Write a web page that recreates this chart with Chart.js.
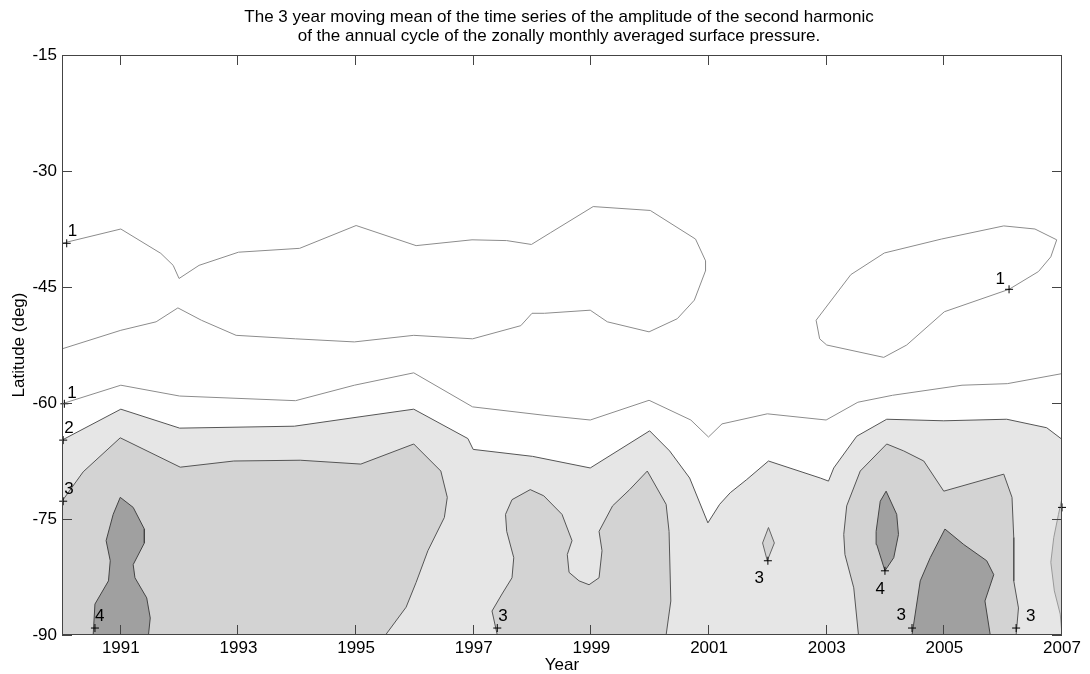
<!DOCTYPE html>
<html>
<head>
<meta charset="utf-8">
<script src="https://cdn.jsdelivr.net/npm/chart.js@4/dist/chart.umd.min.js"></script>
<style>
  html, body { margin: 0; padding: 0; background: #fff; }
</style>
</head>
<body>
<canvas id="contourChart" width="1090" height="674"></canvas>
<script>
// axis ticks
const xTickYears = [1991, 1993, 1995, 1997, 1999, 2001, 2003, 2005, 2007];
const yTickLats = [-90, -75, -60, -45, -30, -15];

const titleLines = [
    'The 3 year moving mean of the time series of the amplitude of the second harmonic',
    'of the annual cycle of the zonally monthly averaged surface pressure.'
];
const xTitle = 'Year';
const yTitle = 'Latitude (deg)';

// contour level 1 lines [year, latitude]
const level1Upper = [[1990,-39.35],[1991,-37.5],[1991.68,-40.65],[1991.89,-42.2],[1991.99,-43.9],[1992.33,-42.2],[1993,-40.5],[1994.04,-40.0],[1995,-37.05],[1996.02,-39.65],[1996.97,-38.9],[1997.56,-39.0],[1997.98,-39.5],[1998.3,-38.0],[1999.03,-34.6],[2000.0,-35.1],[2000.77,-38.8],[2000.94,-41.6],[2000.94,-42.9],[2000.75,-46.7],[2000.46,-49.1],[1999.98,-50.8],[1999.27,-49.5],[1998.98,-48.0],[1998.2,-48.4],[1997.99,-48.4],[1997.8,-50.0],[1996.98,-51.7],[1995.98,-51.25],[1994.97,-52.1],[1993.97,-51.7],[1992.96,-51.25],[1992.37,-49.3],[1991.97,-47.7],[1991.6,-49.5],[1991,-50.6],[1990,-53.0]];
const level1Blob = [[2003.12,-46.3],[2003.41,-43.4],[2003.98,-40.6],[2004.95,-38.8],[2006.01,-37.1],[2006.54,-37.5],[2006.91,-38.9],[2006.81,-41.1],[2006.6,-43.0],[2006.1,-45.3],[2005.0,-48.2],[2004.36,-52.5],[2003.97,-54.1],[2003.0,-52.5],[2002.88,-51.7],[2002.82,-49.3],[2003.12,-46.3]];
const level1Lower = [[1990,-60.1],[1991,-57.7],[1992,-59.1],[1993.97,-59.7],[1994.97,-57.7],[1995.98,-56.1],[1996.98,-60.5],[1998.21,-61.6],[1998.98,-62.2],[1999.98,-59.65],[2000.69,-62.2],[2000.99,-64.4],[2001.22,-62.7],[2001.99,-61.4],[2002.99,-62.2],[2003.53,-59.9],[2004.12,-59.0],[2005.3,-57.7],[2006.07,-57.5],[2007,-56.2]];

// level 2 region (filled down to -90)
const level2Region = [[1990,-64.8],[1991,-60.8],[1992,-63.25],[1993.95,-63.0],[1995.05,-61.8],[1995.98,-60.8],[1996.9,-64.6],[1996.99,-66.0],[1998.0,-66.9],[1998.98,-68.4],[1999.99,-63.6],[2000.33,-66.2],[2000.67,-69.7],[2000.98,-75.5],[2001.18,-73.1],[2001.36,-71.6],[2001.64,-69.9],[2002.01,-67.5],[2002.89,-69.7],[2003.03,-70.1],[2003.12,-68.4],[2003.51,-64.3],[2004.02,-62.1],[2004.99,-62.3],[2006.06,-62.1],[2006.74,-63.2],[2007,-64.7],[2007,-90],[1990,-90]];

// level 3 regions
const level3Left = [[1990,-72.7],[1990.36,-68.9],[1990.99,-64.5],[1992.01,-68.3],[1992.92,-67.5],[1994.05,-67.4],[1995.08,-67.9],[1995.98,-65.3],[1996.44,-68.8],[1996.55,-72.2],[1996.5,-74.8],[1996.22,-79.1],[1996.02,-83.2],[1995.85,-86.4],[1995.5,-90],[1990,-90]];
const level3Middle = [[1997.4,-90],[1997.31,-86.9],[1997.48,-84.7],[1997.65,-82.6],[1997.68,-80.0],[1997.56,-76.6],[1997.54,-74.4],[1997.65,-72.5],[1997.96,-71.2],[1998.19,-72.0],[1998.5,-74.4],[1998.67,-77.8],[1998.59,-79.6],[1998.62,-81.9],[1998.79,-83.0],[1998.96,-83.5],[1999.13,-82.6],[1999.18,-79.1],[1999.13,-76.6],[1999.36,-73.3],[1999.65,-71.2],[1999.95,-68.8],[2000.27,-73.1],[2000.32,-76.6],[2000.35,-85.6],[2000.27,-90]];
const level3Small = [[2002.01,-76.1],[2002.11,-78.1],[2001.99,-80.4],[2001.91,-78.1],[2002.01,-76.1]];
const level3Right = [[2003.54,-90],[2003.46,-83.9],[2003.31,-79.6],[2003.29,-77.0],[2003.34,-73.3],[2003.57,-68.8],[2004.02,-65.3],[2004.31,-66.2],[2004.65,-67.5],[2004.99,-71.4],[2006.01,-69.2],[2006.15,-72.2],[2006.18,-77.4],[2006.18,-83.0],[2006.26,-86.5],[2006.22,-90]];
const level3Edge = [[2007,-72.3],[2006.94,-74.4],[2006.86,-77.4],[2006.81,-80.6],[2006.87,-84.3],[2006.97,-87.3],[2007,-90]];

// level 4 regions
const level4Left = [[1990.53,-90],[1990.56,-86.0],[1990.79,-83.0],[1990.82,-80.4],[1990.75,-77.8],[1990.87,-74.4],[1990.99,-72.2],[1991.21,-73.5],[1991.4,-76.3],[1991.4,-78.1],[1991.21,-80.9],[1991.24,-82.6],[1991.44,-85.2],[1991.5,-87.8],[1991.47,-90]];
const level4Mid = [[2004.01,-71.4],[2004.19,-74.4],[2004.22,-77.0],[2004.14,-80.0],[2003.99,-81.7],[2003.85,-78.3],[2003.84,-76.6],[2003.91,-72.7],[2004.01,-71.4]];
const level4Right = [[2004.45,-90],[2004.59,-83.0],[2004.76,-80.0],[2005.01,-76.3],[2005.33,-78.3],[2005.72,-80.4],[2005.84,-82.2],[2005.69,-85.6],[2005.78,-90]];

// contour label markers
const markerYears = [1990.08, 2006.1, 1990.04, 1990.02, 1990.02, 1990.56, 1997.4, 2002.0, 2003.99, 2004.45, 2006.22, 2007.0];
const markerLats  = [-39.35, -45.3, -60.1, -64.8, -72.7, -89.1, -89.1, -80.4, -81.7, -89.1, -89.1, -73.5];
const markerTexts = ['1', '1', '1', '2', '3', '4', '3', '3', '4', '3', '3', ''];

const toXY = pts => pts.map(p => ({ x: p[0], y: p[1] }));

const fillLight = '#e6e6e6';
const fillMid = '#d3d3d3';
const fillDark = '#a0a0a0';

function region(pts, bg, border, order) {
    return {
        data: toXY(pts),
        showLine: true,
        fill: 'shape',
        backgroundColor: bg,
        borderColor: border,
        borderWidth: 1,
        pointRadius: 0,
        tension: 0,
        order: order
    };
}
function contourLine(pts) {
    return {
        data: toXY(pts),
        showLine: true,
        fill: false,
        borderColor: '#8c8c8c',
        borderWidth: 1,
        pointRadius: 0,
        tension: 0,
        order: 1
    };
}

// label text offsets (pixels) relative to the + marker
const labelAlign = [
    ['left', 'bottom', 1, -3], ['right', 'bottom', -4, -2], ['left', 'bottom', 3, -2],
    ['left', 'bottom', 1, -3], ['left', 'bottom', 1, -3], ['left', 'bottom', 0, -3],
    ['left', 'bottom', 1, -3], ['right', 'top', -4, 9], ['right', 'top', 0, 10],
    ['right', 'bottom', -6, -4], ['left', 'bottom', 10, -3], ['left', 'bottom', 0, 0]
];

const FONT = '"Liberation Sans", Arial, sans-serif';

const framePlugin = {
    id: 'frame',
    afterDatasetsDraw(chart) {
        const { ctx, chartArea: a, scales: { x, y } } = chart;
        ctx.save();
        ctx.strokeStyle = '#444';
        ctx.lineWidth = 1;
        ctx.strokeRect(a.left + 0.5, a.top + 0.5, a.right - a.left - 1, a.bottom - a.top - 1);
        ctx.beginPath();
        x.ticks.forEach(t => {
            const px = Math.round(x.getPixelForValue(t.value)) - 0.5;
            ctx.moveTo(px, a.bottom); ctx.lineTo(px, a.bottom - 10);
            ctx.moveTo(px, a.top); ctx.lineTo(px, a.top + 10);
        });
        y.ticks.forEach(t => {
            const py = Math.round(y.getPixelForValue(t.value)) + 0.5;
            ctx.moveTo(a.left, py); ctx.lineTo(a.left + 10, py);
            ctx.moveTo(a.right, py); ctx.lineTo(a.right - 10, py);
        });
        ctx.stroke();

        // contour labels
        ctx.fillStyle = '#000';
        ctx.font = '17px ' + FONT;
        markerTexts.forEach((txt, i) => {
            if (!txt) return;
            const [al, bl, dx, dy] = labelAlign[i];
            ctx.textAlign = al;
            ctx.textBaseline = bl;
            ctx.fillText(txt, x.getPixelForValue(markerYears[i]) + dx, y.getPixelForValue(markerLats[i]) + dy);
        });

        // titles
        ctx.textAlign = 'center';
        ctx.textBaseline = 'middle';
        ctx.font = '17px ' + FONT;
        titleLines.forEach((t, i) => ctx.fillText(t, 559, 17 + i * 19));
        ctx.fillText(xTitle, (a.left + a.right) / 2, 665);
        ctx.translate(19, (a.top + a.bottom) / 2);
        ctx.rotate(-Math.PI / 2);
        ctx.fillText(yTitle, 0, 0);
        ctx.restore();
    }
};

const ctx = document.getElementById('contourChart').getContext('2d');
const chart = new Chart(ctx, {
    type: 'scatter',
    data: {
        datasets: [
            region(level2Region, fillLight, '#555', 10),
            region(level3Left, fillMid, '#555', 5),
            region(level3Middle, fillMid, '#555', 5),
            region(level3Small, fillMid, '#666', 5),
            region(level3Right, fillMid, '#555', 5),
            region(level3Edge, fillMid, '#999', 5),
            region(level4Left, fillDark, '#444', 2),
            region(level4Mid, fillDark, '#444', 2),
            region(level4Right, fillDark, '#444', 2),
            contourLine(level1Upper),
            contourLine(level1Blob),
            contourLine(level1Lower),
            {
                data: markerYears.map((v, i) => ({ x: v, y: markerLats[i] })),
                showLine: false,
                pointStyle: 'cross',
                pointRadius: 4,
                borderColor: '#000',
                borderWidth: 1,
                backgroundColor: '#000',
                clip: false,
                order: 0
            }
        ]
    },
    options: {
        responsive: false,
        animation: false,
        layout: { padding: { top: 55, right: 28, left: 0, bottom: 0 } },
        plugins: {
            legend: { display: false },
            tooltip: { enabled: false },
            title: { display: false }
        },
        scales: {
            x: {
                type: 'linear',
                min: 1990,
                max: 2007,
                afterBuildTicks: s => { s.ticks = xTickYears.map(v => ({ value: v })); },
                afterFit: s => { s.height = 39; },
                grid: { display: false, drawTicks: false },
                border: { display: false },
                ticks: {
                    color: '#000',
                    font: { family: FONT, size: 17 },
                    padding: 3,
                    maxRotation: 0,
                    autoSkip: false,
                    callback: v => String(v)
                }
            },
            y: {
                type: 'linear',
                min: -90,
                max: -15,
                afterBuildTicks: s => { s.ticks = yTickLats.map(v => ({ value: v })); },
                afterFit: s => { s.width = 62; },
                grid: { display: false, drawTicks: false },
                border: { display: false },
                ticks: {
                    color: '#000',
                    font: { family: FONT, size: 17 },
                    padding: 5,
                    callback: v => String(v)
                }
            }
        }
    },
    plugins: [framePlugin]
});
</script>
</body>
</html>
